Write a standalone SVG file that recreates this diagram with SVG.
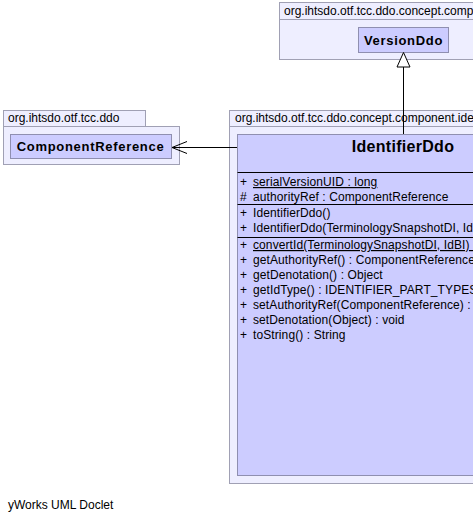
<svg xmlns="http://www.w3.org/2000/svg" width="473" height="522" viewBox="0 0 473 522">
<style>
text{font-family:"Liberation Sans",Arial,sans-serif;fill:#000}
.pkg{fill:#eeeeff;stroke:#a0a0b4;stroke-width:1}
.cls{fill:#ccccff;stroke:#8f8fb0;stroke-width:1}
.pl{font-size:12px}
.cn{font-size:13px;font-weight:bold;letter-spacing:0.7px}
.m{font-size:12px;letter-spacing:0.1px}
.sep{stroke:#000;stroke-width:1}
.u{text-decoration:underline}
</style>
<rect width="473" height="522" fill="#fff"/>
<g id="pkg-concept">
<rect class="pkg" x="279.5" y="2.5" width="200" height="17"/>
<rect class="pkg" x="279.5" y="19.5" width="200" height="40"/>
<text class="pl" x="284" y="15">org.ihtsdo.otf.tcc.ddo.concept.component</text>
</g>
<g id="VersionDdo">
<rect class="cls" x="358.5" y="27.5" width="90" height="25"/>
<text class="cn" x="403.5" y="45" text-anchor="middle">VersionDdo</text>
</g>
<g id="pkg-ddo">
<rect class="pkg" x="3.5" y="110.5" width="142" height="16"/>
<rect class="pkg" x="3.5" y="126.5" width="176" height="38"/>
<text class="pl" x="8" y="122">org.ihtsdo.otf.tcc.ddo</text>
</g>
<g id="ComponentReference">
<rect class="cls" x="10.5" y="134.5" width="161" height="24"/>
<text class="cn" x="90.5" y="151" text-anchor="middle">ComponentReference</text>
</g>
<g id="pkg-identifier">
<rect class="pkg" x="229.5" y="110.5" width="260" height="16"/>
<rect class="pkg" x="229.5" y="126.5" width="260" height="357"/>
<text class="pl" x="235" y="122">org.ihtsdo.otf.tcc.ddo.concept.component.identifier</text>
</g>
<g id="IdentifierDdo">
<rect class="cls" x="237.5" y="134.5" width="250" height="341"/>
<text x="403" y="152" text-anchor="middle" style="font-size:16px;font-weight:bold;letter-spacing:0.3px">IdentifierDdo</text>
<line class="sep" x1="237.5" y1="172.5" x2="480" y2="172.5"/>
<line class="sep" x1="237.5" y1="204.5" x2="480" y2="204.5"/>
<line class="sep" x1="237.5" y1="237.5" x2="480" y2="237.5"/>
<text class="m" x="240" y="186">+</text><text class="m u" x="253" y="186">serialVersionUID : long </text>
<text class="m" x="240" y="201">#</text><text class="m" x="253" y="201">authorityRef : ComponentReference</text>
<text class="m" x="240" y="217">+</text><text class="m" x="253" y="217">IdentifierDdo()</text>
<text class="m" x="240" y="232">+</text><text class="m" x="253" y="232">IdentifierDdo(TerminologySnapshotDI, IdBI)</text>
<text class="m" x="240" y="249">+</text><text class="m u" x="253" y="249">convertId(TerminologySnapshotDI, IdBI) : IdentifierDdo</text>
<text class="m" x="240" y="264">+</text><text class="m" x="253" y="264">getAuthorityRef() : ComponentReference</text>
<text class="m" x="240" y="279">+</text><text class="m" x="253" y="279">getDenotation() : Object</text>
<text class="m" x="240" y="294">+</text><text class="m" x="253" y="294">getIdType() : IDENTIFIER_PART_TYPES</text>
<text class="m" x="240" y="309">+</text><text class="m" x="253" y="309">setAuthorityRef(ComponentReference) : void</text>
<text class="m" x="240" y="324">+</text><text class="m" x="253" y="324">setDenotation(Object) : void</text>
<text class="m" x="240" y="339">+</text><text class="m" x="253" y="339">toString() : String</text>
</g>
<g id="connectors" fill="none" stroke="#000" stroke-width="1">
<line x1="403.5" y1="67" x2="403.5" y2="134"/>
<polygon points="403.5,52.5 397,67 410,67" fill="#fff"/>
<line x1="172" y1="147.5" x2="237" y2="147.5"/>
<polyline points="187,141.5 172,147.5 187,153.5"/>
</g>
<text class="pl" x="8" y="509">yWorks UML Doclet</text>
</svg>
